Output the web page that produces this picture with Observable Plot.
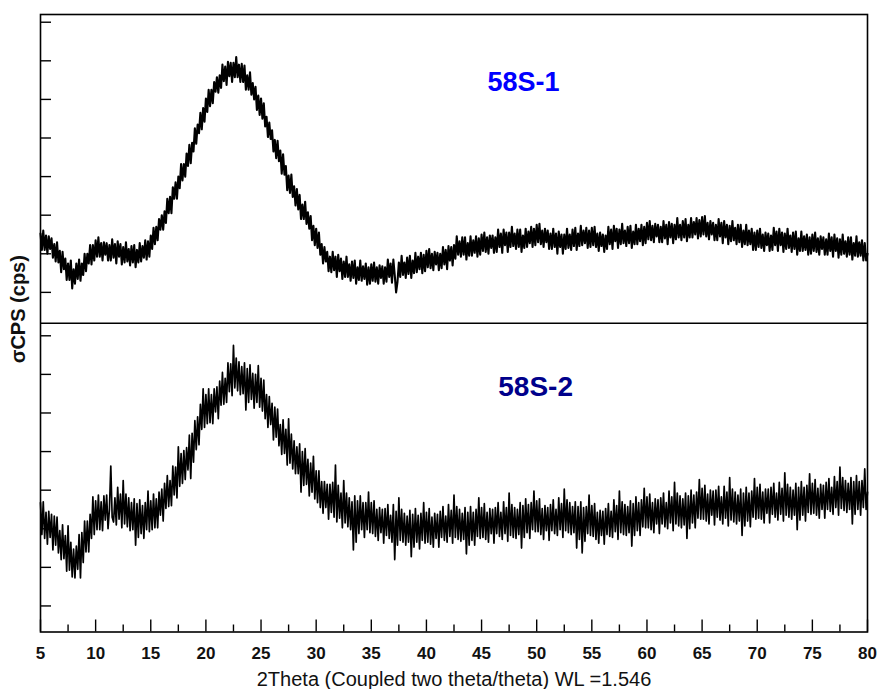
<!DOCTYPE html>
<html>
<head>
<meta charset="utf-8">
<script src="https://cdn.jsdelivr.net/npm/d3@7"></script>
<script src="https://cdn.jsdelivr.net/npm/@observablehq/plot@0.6"></script>
<style>
  body { margin: 0; background: #fff; }
  #chart { width: 878px; height: 689px; }
</style>
</head>
<body>
<div id="chart"></div>
<script>
// Scan definition (2θ, degrees)
const scanStart = 5;
const scanStep = 0.125;

// Intensity, per panel (arbitrary cps, 0 = lowest tick of the panel); one row per degree
const sample58S1 = [
  61,44,64,44,59,40,58,45,  56,36,50,32,52,31,43,21,  42,24,35,13,30,13,33,4,  24,9,30,14,34,12,30,18,
  40,22,40,30,49,29,49,33,  54,37,57,37,51,33,52,39,  51,33,49,33,55,36,50,30,  53,37,50,29,47,31,52,32,
  45,28,48,31,49,26,44,31,  51,32,48,36,54,34,53,37,  59,45,67,50,68,54,76,65,  80,65,84,72,97,82,99,82,
  109,97,114,97,120,108,133,116,  133,120,144,131,153,134,155,146,  170,154,174,165,186,169,191,177,
  201,187,210,193,210,196,218,208,  223,207,225,212,236,219,234,215,  239,224,238,218,238,223,244,223,
  236,218,237,218,235,210,225,210,  228,205,217,200,213,189,204,184,  201,180,196,172,182,161,176,159,
  168,146,158,139,157,136,147,123,  143,122,131,106,121,103,122,99,  110,90,107,86,101,76,91,76,
  94,71,83,66,79,54,69,49,  66,46,62,39,50,30,47,32,  42,22,37,21,42,23,37,16,  39,22,35,14,32,16,37,16,
  29,12,32,15,33,9,26,13,  33,12,27,14,30,8,26,9,  29,12,31,11,26,9,28,15,  27,9,26,11,34,16,30,10,
  34,18,0,11,31,16,38,18,  31,15,36,19,38,15,33,20,  41,21,37,24,41,20,39,22,  43,26,45,25,40,23,42,29,
  41,23,40,25,47,29,44,24,  48,33,47,28,49,35,58,39,  53,37,57,39,57,34,51,38,  58,38,54,41,58,37,56,39,
  60,43,62,42,57,40,59,46,  59,41,57,42,65,47,61,41,  65,49,62,42,62,47,68,48,  61,45,65,47,65,42,59,46,
  66,47,63,51,68,47,66,49,  70,52,71,50,64,47,66,52,  64,45,61,45,66,47,61,40,  63,47,60,40,60,45,66,46,
  60,44,65,48,67,44,61,48,  69,49,64,51,67,46,64,47,  67,49,68,47,61,43,62,48,  60,42,59,45,68,50,65,45,
  69,53,66,46,65,50,71,51,  64,48,68,51,69,46,63,50,  70,50,66,53,70,49,68,51,  72,55,74,54,69,52,71,58,
  70,52,68,52,74,56,70,50,  73,57,71,51,70,55,77,57,  70,54,74,57,76,53,70,57,  77,57,73,60,77,56,75,58,
  78,60,79,58,72,55,74,60,  72,54,70,54,76,58,72,51,  74,57,70,50,69,53,74,54,  67,50,70,52,70,47,64,50,
  70,49,64,50,66,44,62,44,  64,47,66,46,60,43,62,49,  61,43,59,44,67,49,63,43,  66,49,62,42,61,45,66,46,
  59,42,62,45,63,39,56,43,  63,43,58,44,60,39,57,40,  60,43,62,42,56,39,58,45,  57,39,55,39,61,43,57,37,
  60,43,56,36,55,39,60,40,  53,37,57,39,57,34,51,38,  58,37,52,38,54,33,51,33,
  40
];
const sample58S2 = [
  107,74,108,70,97,64,98,71,  95,58,93,63,92,55,78,48,  84,49,73,36,83,37,66,30,  59,29,62,38,74,29,76,45,
  88,56,88,56,95,70,113,74,  109,79,115,79,108,78,114,89,  115,80,100,145,92,87,112,84,  123,90,116,81,130,85,116,82,
  112,78,107,79,111,63,106,71,  110,75,104,70,107,79,119,77,  109,79,116,81,111,81,118,94,  121,88,127,101,135,103,130,104,
  145,115,144,112,165,124,158,127,  161,131,164,141,177,132,179,149,  192,162,196,167,209,183,225,185,
  219,189,225,190,219,189,225,201,  227,194,233,208,242,209,236,211,  252,222,251,218,270,226,257,223,
  253,219,248,220,252,203,246,211,  250,214,241,205,240,211,249,206,  236,202,234,194,219,185,217,188,
  210,172,206,175,204,166,188,157,  193,158,183,146,194,148,178,142,  171,137,165,137,168,118,160,125,
  163,126,152,114,148,118,155,111,  140,107,140,102,129,96,129,102,  126,90,126,97,128,92,146,87,
  125,91,117,81,130,86,117,82,  112,79,108,58,114,66,109,75,  114,79,107,71,107,79,118,76,  107,75,109,72,100,68,102,76,
  100,65,101,73,105,70,94,66,  105,48,98,63,112,68,100,66,  96,63,93,66,99,51,95,61,  101,66,94,59,96,68,107,65,
  97,66,101,64,92,61,96,70,  95,61,98,71,103,68,93,66,  105,72,99,65,115,71,103,69,  100,67,96,69,102,54,97,63,
  103,68,97,63,100,72,112,70,  102,71,106,69,97,66,101,75,  100,65,102,75,107,72,97,69,  108,75,102,67,117,73,105,71,
  102,70,100,74,107,60,104,71,  111,76,105,70,107,79,119,77,  109,77,111,74,101,69,104,78,  102,68,105,78,110,75,100,73,
  112,79,106,71,121,78,110,76,  107,74,103,76,108,60,103,69,  108,55,102,67,103,75,115,73,  104,72,106,69,97,65,99,73,
  98,64,101,74,106,72,98,71,  110,77,104,69,119,76,108,74,  105,73,103,76,109,62,106,73,  113,78,107,73,110,82,122,81,
  113,81,116,79,107,76,111,85,  110,75,112,85,117,82,107,80,  119,86,113,78,128,85,117,83,  114,81,111,84,117,70,114,80,
  120,86,115,81,118,91,131,90,  122,90,125,88,116,85,120,94,  119,84,120,92,124,89,113,85,  124,91,118,83,133,89,121,87,
  118,85,115,88,121,73,117,83,  123,88,117,82,119,92,132,90,  123,91,126,90,118,86,121,96,  121,86,123,95,127,92,117,89,
  128,95,122,88,138,94,126,92,  123,90,120,94,127,79,123,89,  129,94,123,88,125,97,137,95,  127,96,131,94,122,91,126,100,
  125,91,128,100,132,98,123,95,  134,102,129,94,144,101,133,99,  130,97,127,100,133,85,129,95,  135,100,129,94,130,102,142,100,
  118
];

const sampleNames = ["58S-1", "58S-2"];
const sampleColors = ["#0000ff", "#00008b"];
const sampleOffsets = [352, 27];          // vertical stacking offset of each panel (cps)
const panelDivider = 320;                 // boundary between the two panels (cps)
const labelTheta = [48.8, 49.9];
const labelCps = [218, 227];
const labelSizes = [27, 28];

const xTicksMajor = [5,10,15,20,25,30,35,40,45,50,55,60,65,70,75,80];
const xTicksMinor = [7.5,12.5,17.5,22.5,27.5,32.5,37.5,42.5,47.5,52.5,57.5,62.5,67.5,72.5,77.5];
const yTicksPanel = [0,40,80,120,160,200,240,280];

const xTitle = "2Theta (Coupled two theta/theta) WL =1.546";
const yTitle = "σCPS (cps)";

// Build the table
const series = [sample58S1, sample58S2];
const rows = [];
sampleNames.forEach((name, k) => {
  series[k].forEach((v, i) => {
    rows.push({sample: name, theta: scanStart + i * scanStep, cps: v + sampleOffsets[k]});
  });
});
const yTicks = sampleOffsets.flatMap(o => yTicksPanel.map(t => t + o));
const labels = sampleNames.map((name, k) => ({
  name, theta: labelTheta[k], cps: labelCps[k] + sampleOffsets[k], color: sampleColors[k], size: labelSizes[k]
}));

const chart = Plot.plot({
  width: 878,
  height: 689,
  marginLeft: 40,
  marginRight: 11,
  marginTop: 14,
  marginBottom: 57.5,
  style: {fontFamily: "'Liberation Sans', Arial, sans-serif", background: "#fff", color: "#000"},
  x: {domain: [5, 80]},
  y: {domain: [0, 640]},
  marks: [
    Plot.line(rows.filter(d => d.sample === "58S-1"), {x: "theta", y: "cps", stroke: "#000", strokeWidth: 2.1, strokeLinejoin: "round"}),
    Plot.line(rows.filter(d => d.sample === "58S-2"), {x: "theta", y: "cps", stroke: "#000", strokeWidth: 1.7, strokeLinejoin: "round"}),
    Plot.ruleY([panelDivider], {stroke: "#000", strokeWidth: 1.5}),
    Plot.frame({stroke: "#000", strokeWidth: 1.6}),
    Plot.axisY(yTicks, {tickSize: 11, dx: 11, fill: "none", label: null, strokeWidth: 1.4}),
    Plot.axisX(xTicksMajor, {tickSize: 12, dy: -12, fill: "none", label: null, strokeWidth: 1.4}),
    Plot.axisX(xTicksMinor, {tickSize: 7, dy: -7, fill: "none", label: null, strokeWidth: 1.4}),
    Plot.axisX(xTicksMajor, {tickSize: 0, tickPadding: 15, fontSize: 17, fontWeight: "bold", label: null, fill: "#111"}),
    Plot.text([xTitle], {text: d => d, frameAnchor: "bottom", dy: 48, fontSize: 20, lineAnchor: "middle", fill: "#111"}),
    Plot.text([yTitle], {text: d => d, frameAnchor: "left", dx: -22, dy: 40, rotate: -90, fontSize: 20, fontWeight: "bold", fill: "#111"}),
    Plot.text(labels, {x: "theta", y: "cps", text: "name", fill: "color", fontSize: d => d.size, fontWeight: "bold"})
  ]
});
document.getElementById("chart").append(chart);
</script>
</body>
</html>
